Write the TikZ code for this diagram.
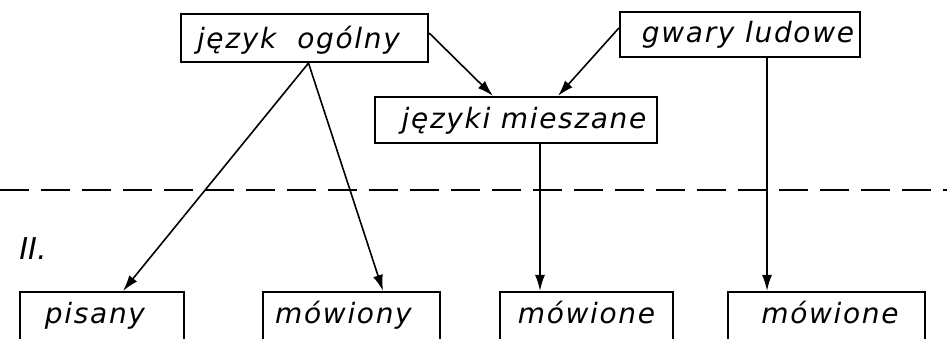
\documentclass[tikz,border=0pt]{standalone}
\usepackage{fontspec}
\setmainfont{DejaVu Sans}
\newfontfamily\lettering[LetterSpace=6]{DejaVu Sans}
\usetikzlibrary{arrows.meta}
\tikzset{
  box/.style={draw, line width=2.2pt, inner sep=0pt, font=\lettering\fontsize{28}{30}\selectfont\itshape},
  arr/.style={line width=1.6pt, -{Latex[length=16pt,width=10pt]}},
  dline/.style={line width=2.2pt, dash pattern=on 29pt off 12pt},
}
\begin{document}
\begin{tikzpicture}[x=1pt,y=-1pt]
\clip (0,0) rectangle (947,338);
\fill[white] (0,0) rectangle (947,338);
\node[box, minimum width=247pt, text height=34pt, text depth=14pt] (jo) at (304.5,38) {\hspace*{-12pt}język\ \ ogólny};
\node[box, minimum width=240pt, text height=30pt, text depth=15pt] (gl) at (740,34.5) {\hspace*{16pt}gwary ludowe};
\node[box, minimum width=282pt, text height=31pt, text depth=15pt] (jm) at (516,120) {\hspace*{16pt}języki mieszane};
\node[box, minimum width=164pt, text height=31pt, text depth=29pt] (pis) at (102,322) {\hspace*{-14pt}pisany};
\node[box, minimum width=177pt, text height=31pt, text depth=29pt] (mw) at (351.5,322) {\hspace*{-16pt}mówiony};
\node[box, minimum width=173pt, text height=31pt, text depth=29pt] (m1) at (586.5,322) {mówione};
\node[box, minimum width=197pt, text height=31pt, text depth=29pt] (m2) at (826.5,322) {\hspace*{7pt}mówione};
\node[font=\fontsize{30}{32}\selectfont\itshape, inner sep=0pt] (II) at (33,249) {II.};
\coordinate (dl) at (0,190);
\coordinate (dr) at (947,190);
\draw[dline] (dl) -- (dr);
\draw[arr] ([xshift=4pt]jo.south) -- ([xshift=21pt]pis.north);
\draw[arr] ([xshift=4pt]jo.south) -- ([xshift=31.5pt]mw.north);
\draw[arr] ([yshift=5pt]jo.east) -- ([xshift=-23pt]jm.north);
\draw[arr] ([yshift=6.5pt]gl.west) -- ([xshift=42pt]jm.north);
\draw[arr] ([xshift=24pt]jm.south) -- ([xshift=-46.5pt]m1.north);
\draw[arr] ([xshift=27pt]gl.south) -- ([xshift=-59.5pt]m2.north);
\end{tikzpicture}
\end{document}
